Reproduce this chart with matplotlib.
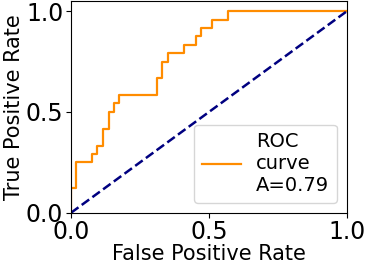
import matplotlib
matplotlib.use("Agg")
import matplotlib.pyplot as plt

# ROC points (false positive rate, true positive rate)
fpr = [0.0, 0.0, 0.018, 0.077, 0.095, 0.117, 0.138, 0.156, 0.175,
       0.313, 0.331, 0.35, 0.41, 0.452, 0.47, 0.51, 0.57, 1.0]
tpr = [0.0, 0.125, 0.25, 0.292, 0.333, 0.417, 0.5, 0.542, 0.583,
       0.667, 0.75, 0.792, 0.833, 0.875, 0.917, 0.958, 1.0, 1.0]
auc = 0.79

fig = plt.figure(figsize=(3.66, 2.64), dpi=100)
ax = fig.add_axes([0.194, 0.194, 0.754, 0.802])

ax.plot(fpr, tpr, color='darkorange', lw=1.6, drawstyle='steps-post',
        label='ROC\ncurve\nA=%0.2f' % auc)
ax.plot([0, 1], [0, 1], color='navy', lw=1.8, linestyle='--')
ax.set_xlim(0.0, 1.0)
ax.set_ylim(0.0, 1.05)
ax.set_xticks([0.0, 0.5, 1.0])
ax.set_yticks([0.0, 0.5, 1.0])
ax.tick_params(labelsize=17, pad=2)
ax.set_xlabel('False Positive Rate', fontsize=15, labelpad=0)
ax.set_ylabel('True Positive Rate', fontsize=15, labelpad=1)
ax.legend(loc='lower right', fontsize=14)

fig.savefig('out.png', dpi=100)
